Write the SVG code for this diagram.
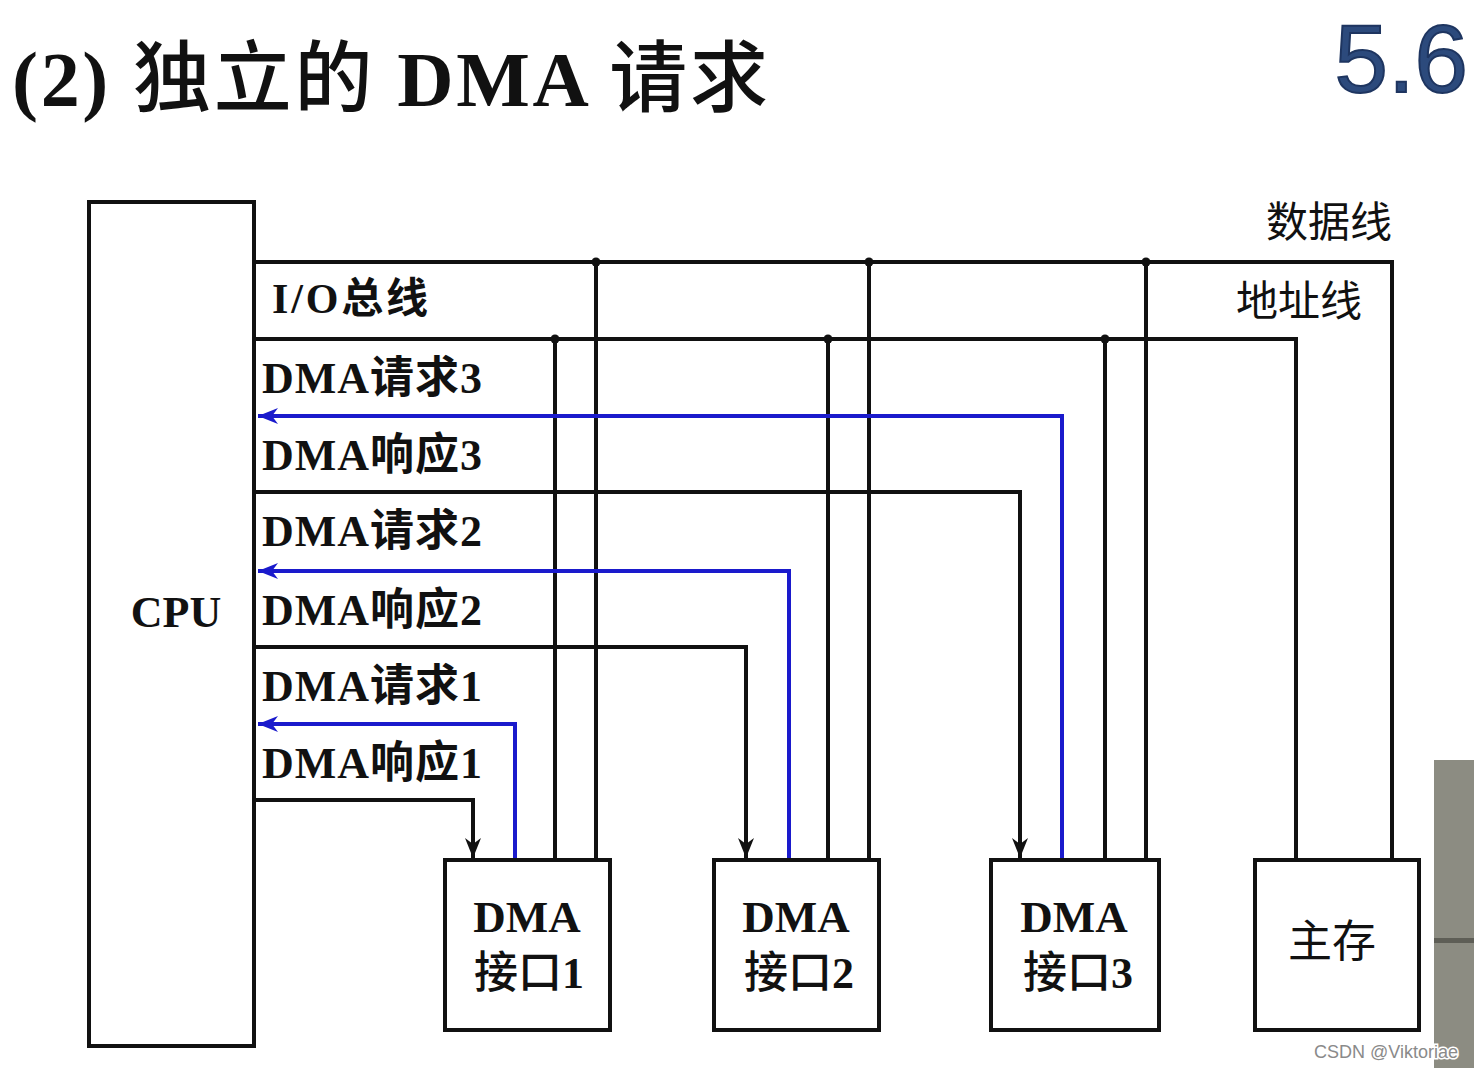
<svg xmlns="http://www.w3.org/2000/svg" width="1474" height="1068" viewBox="0 0 1474 1068">
<defs>
<style>
.t{font-family:"Liberation Serif","Noto Sans CJK SC",serif;font-weight:bold;fill:#111}
.n{font-weight:normal}
.m{font-weight:500}
.lbl{font-size:44px}
.box{fill:#fff;stroke:#111;stroke-width:4}
.bus{fill:none;stroke:#111;stroke-width:4}
.req{fill:none;stroke:#1a1acc;stroke-width:4}
</style>
<marker id="ab" viewBox="0 0 10 10" refX="10" refY="5" markerWidth="5" markerHeight="5" orient="auto" markerUnits="strokeWidth"><path d="M0,1 L10,5 L0,9 L3,5 z" fill="#111"/></marker>
<marker id="au" viewBox="0 0 10 10" refX="10" refY="5" markerWidth="5" markerHeight="5" orient="auto" markerUnits="strokeWidth"><path d="M0,1 L10,5 L0,9 L3,5 z" fill="#1a1acc"/></marker>
</defs>
<rect width="1474" height="1068" fill="#fff"/>
<text class="t" x="12" y="106" font-size="78" textLength="756" lengthAdjust="spacing">(2) <tspan class="m">独立的</tspan> DMA <tspan class="m">请求</tspan></text>
<text x="1468" y="92" text-anchor="end" font-family="Liberation Sans,Arial,sans-serif" font-size="96" fill="#2c4a7c" stroke="#1e3560" stroke-width="2">5.6</text>
<rect x="1434" y="760" width="40" height="308" fill="#8c8c82"/>
<rect x="1434" y="938" width="40" height="5" fill="#5e5e56"/>

<g id="connectors">
<path class="bus" d="M254,262 H1392 V860"/>
<path class="bus" d="M596,262 V860 M869,262 V860 M1146,262 V860"/>
<path class="bus" d="M254,339 H1296 V860"/>
<path class="bus" d="M555,339 V860 M828,339 V860 M1105,339 V860"/>
<circle cx="596" cy="262" r="4.5" fill="#111"/>
<circle cx="869" cy="262" r="4.5" fill="#111"/>
<circle cx="1146" cy="262" r="4.5" fill="#111"/>
<circle cx="555" cy="339" r="4.5" fill="#111"/>
<circle cx="828" cy="339" r="4.5" fill="#111"/>
<circle cx="1105" cy="339" r="4.5" fill="#111"/>
<path class="req" d="M1062,860 V416 H258" marker-end="url(#au)"/>
<path class="req" d="M789,860 V571 H258" marker-end="url(#au)"/>
<path class="req" d="M515,860 V724 H258" marker-end="url(#au)"/>
<path class="bus" d="M254,492 H1020 V858" marker-end="url(#ab)"/>
<path class="bus" d="M254,647 H746 V858" marker-end="url(#ab)"/>
<path class="bus" d="M254,800 H473 V858" marker-end="url(#ab)"/>
</g>

<g id="cpu">
<rect class="box" x="89" y="202" width="165" height="844"/>
<text class="t" x="176" y="627" font-size="44" text-anchor="middle">CPU</text>
</g>
<g id="bus-labels">
<text class="t" x="272" y="313" font-size="42" textLength="156" lengthAdjust="spacing">I/O总线</text>
<text class="t n" x="1392" y="237" font-size="42" text-anchor="end">数据线</text>
<text class="t n" x="1362" y="316" font-size="42" text-anchor="end">地址线</text>
<text class="t lbl" x="262" y="393" textLength="220" lengthAdjust="spacing">DMA请求3</text>
<text class="t lbl" x="262" y="470" textLength="220" lengthAdjust="spacing">DMA响应3</text>
<text class="t lbl" x="262" y="546" textLength="220" lengthAdjust="spacing">DMA请求2</text>
<text class="t lbl" x="262" y="625" textLength="220" lengthAdjust="spacing">DMA响应2</text>
<text class="t lbl" x="262" y="701" textLength="220" lengthAdjust="spacing">DMA请求1</text>
<text class="t lbl" x="262" y="778" textLength="220" lengthAdjust="spacing">DMA响应1</text>
</g>
<g id="dma1">
<rect class="box" x="445" y="860" width="165" height="170"/>
<text class="t" x="527" y="932" font-size="45" text-anchor="middle">DMA</text>
<text class="t" x="529" y="988" font-size="44" text-anchor="middle"><tspan class="m">接口</tspan>1</text>
</g>
<g id="dma2">
<rect class="box" x="714" y="860" width="165" height="170"/>
<text class="t" x="796" y="932" font-size="45" text-anchor="middle">DMA</text>
<text class="t" x="799" y="988" font-size="44" text-anchor="middle"><tspan class="m">接口</tspan>2</text>
</g>
<g id="dma3">
<rect class="box" x="991" y="860" width="168" height="170"/>
<text class="t" x="1074" y="932" font-size="45" text-anchor="middle">DMA</text>
<text class="t" x="1078" y="988" font-size="44" text-anchor="middle"><tspan class="m">接口</tspan>3</text>
</g>
<g id="mem">
<rect class="box" x="1255" y="860" width="164" height="170"/>
<text class="t n" x="1332" y="957" font-size="44" text-anchor="middle">主存</text>
</g>
<text x="1458" y="1058" text-anchor="end" font-family="Liberation Sans,Arial,sans-serif" font-size="18" fill="#8a8a8a" stroke="#fff" stroke-width="3" paint-order="stroke">CSDN @Viktoriae</text>
</svg>
